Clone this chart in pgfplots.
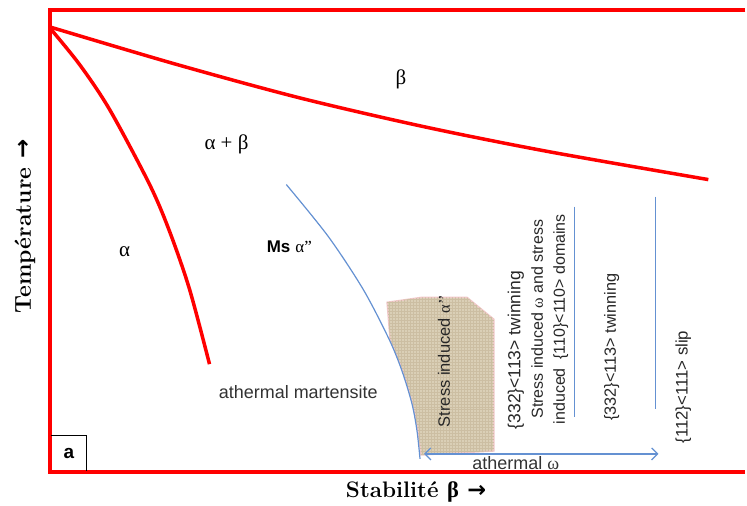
\documentclass[border=0pt]{standalone}
\usepackage{pgfplots}
\pgfplotsset{compat=1.18}
\usepackage{fontspec}
\usetikzlibrary{arrows.meta,patterns}
\newfontfamily\arial{Liberation Sans}
\newfontfamily\tnr{Liberation Serif}
\newfontfamily\dejavu{DejaVu Sans}
\definecolor{lred}{RGB}{255,0,0}
\definecolor{lblue}{RGB}{100,145,210}
\definecolor{tan}{RGB}{218,207,182}
\definecolor{tandark}{RGB}{204,190,162}
\definecolor{pinkb}{RGB}{240,200,200}
\begin{document}
\begin{tikzpicture}
\begin{axis}[hide axis, scale only axis, width=747pt, height=506pt,
  xmin=0, xmax=747, ymin=0, ymax=506, y dir=reverse, clip=false]
% bounding area
\addplot[draw=none, forget plot] coordinates {(0,0)(747,506)};
% textured region
\addplot[fill=tan, draw=pinkb, line width=1.5pt] coordinates {
 (388,303)(423,298)(468,298)(495,320)(495,452)(422,456)(419,432)(414,405)(404,372)(391,340)(388,303)} -- cycle;
\addplot[pattern=grid, pattern color=tandark, draw=none] coordinates {
 (388,303)(423,298)(468,298)(495,320)(495,452)(422,456)(419,432)(414,405)(404,372)(391,340)(388,303)} -- cycle;
% frame
\addplot[lred, line width=3.5pt] coordinates {(747,10)(50,10)(50,473)(747,473)};
% beta transus
\addplot[lred, line width=3.5pt, smooth] coordinates {
 (50,27)(175,64)(300,98)(425,127)(550,152)(710,180)};
% alpha line
\addplot[lred, line width=3.5pt, smooth] coordinates {
 (50,28)(80,65)(110,110)(150,185)(170,232)(190,290)(210,365)};
% Ms curve
\addplot[lblue, line width=1.2pt, smooth] coordinates {
 (287,185)(329,237)(364,290)(390,340)(403,372)(413,405)(418,432)(421,460)};
% vertical lines
\addplot[lblue, line width=1.2pt] coordinates {(576,207)(576,418)};
\addplot[lblue, line width=1.2pt] coordinates {(657,197)(657,410)};
% athermal omega arrow
\addplot[lblue, line width=1.2pt, {Straight Barb[length=6pt,width=12pt]}-{Straight Barb[length=6pt,width=12pt]}] coordinates {(425,455)(660,455)};
% "a" box
\addplot[black, line width=1pt] coordinates {(51,437)(87,437)(87,472)};

% labels
\node[font=\tnr\fontsize{21}{24}\selectfont] at (axis cs:402,80) {β};
\node[font=\tnr\fontsize{21}{24}\selectfont] at (axis cs:227,145) {α + β};
\node[font=\tnr\fontsize{21}{24}\selectfont] at (axis cs:125,252) {α};
\node[font=\fontsize{17}{19}\selectfont] at (axis cs:290,247) {{\arial\bfseries Ms} {\tnr α”}};
\node[font=\arial\fontsize{18}{20}\selectfont, text=black!80] at (axis cs:299,393) {athermal martensite};
\node[font=\arial\fontsize{18}{20}\selectfont, text=black!80] at (axis cs:517,464) {athermal {\tnr ω}};
\node[font=\arial\bfseries\fontsize{19}{21}\selectfont] at (axis cs:69,455) {a};

% rotated labels
\node[rotate=90, font=\arial\fontsize{16.5}{19}\selectfont, text=black!85] at (axis cs:445,362) {Stress induced {\tnr α’’}};
\node[rotate=90, font=\arial\fontsize{17.5}{20}\selectfont, text=black!85] at (axis cs:517,351) {\{332\}<113> twinning};
\node[rotate=90, font=\arial\fontsize{16}{22}\selectfont, text=black!85, align=center] at (axis cs:551,320) {Stress induced {\tnr ω} and stress\\induced \ \{110\}<110> domains};
\node[rotate=90, font=\arial\fontsize{16.3}{19}\selectfont, text=black!85] at (axis cs:613,348) {\{332\}<113> twinning};
\node[rotate=90, font=\arial\fontsize{16.8}{19}\selectfont, text=black!85] at (axis cs:685,388) {\{112\}<111> slip};

% axis labels
\node[rotate=90, font=\bfseries\fontsize{23}{26}\selectfont] at (axis cs:25,227) {Température {\dejavu\bfseries →}};
\node[font=\bfseries\fontsize{22.5}{25}\selectfont] at (axis cs:417,493) {Stabilité {\tnr\bfseries β} {\dejavu\bfseries →}};
\end{axis}
\end{tikzpicture}
\end{document}
